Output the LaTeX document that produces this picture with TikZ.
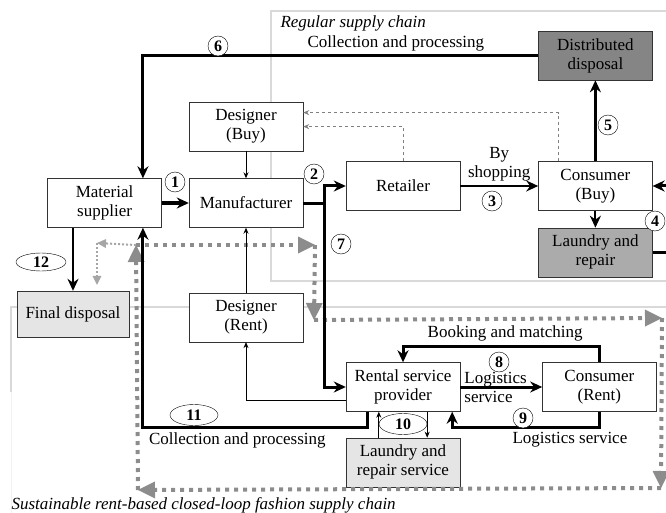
\documentclass[tikz,border=0pt]{standalone}
\usepackage{fontspec}
\setmainfont{Liberation Serif}
\usetikzlibrary{calc,positioning,arrows.meta,shapes.geometric}

\begin{document}
\begin{tikzpicture}[x=1pt,y=-1pt,node distance=27pt,>={Stealth[length=12pt,width=11pt]},
      font=\fontsize{17}{19}\selectfont,
      box/.style={draw=black!80,fill=white,minimum width=114pt,minimum height=49pt,align=center,inner sep=1pt},
      num/.style={draw,circle,fill=white,inner sep=0pt,minimum size=20pt,font=\fontsize{16}{16}\selectfont\bfseries},
      oval/.style={draw,ellipse,fill=white,inner sep=0pt,minimum width=48pt,minimum height=21pt,font=\fontsize{16}{16}\selectfont\bfseries},
      tag/.style={anchor=west,font=\fontsize{17}{19}\selectfont\itshape},
      flow/.style={line width=3pt},
      link/.style={line width=0.8pt,>={Stealth[length=6pt,width=5pt]}},
      info/.style={line width=0.8pt,dashed,black!50,>={Stealth[length=6pt,width=5pt]}},
      chainframe/.style={black!15,line width=2pt},
      loopline/.style={black!45,line width=4pt,dash pattern=on 4pt off 5pt,>={Triangle[length=17pt,width=17pt,line width=0pt]}},
      backline/.style={black!35,line width=2pt,dash pattern=on 2pt off 2pt,>={Triangle[length=9pt,width=9pt,line width=0pt]}}]
      \useasboundingbox (0,0) rectangle (666,513);

      % the two chains
      \draw[chainframe] (271,11) rectangle (700,281);
      \draw[chainframe] (700,307) -- (11,307) -- (11,392);
      \draw[black!5] (11,392) -- (11,513);
      \node[tag] (regular) at (277,23) {Regular supply chain};
      \node[tag] (sustain) at (8,505) {Sustainable rent-based closed-loop fashion supply chain};

      \node[box] (M) at (246,203) {Manufacturer};
      \node[box,left=of M] (S) {Material\\supplier};
      \node[box,above=of M] (DB) {Designer\\(Buy)};
      \node[box,below=65pt of M] (DR) {Designer\\(Rent)};
      \node[box] (R) at (403,186) {Retailer};
      \node[box,right=78pt of R] (CB) {Consumer\\(Buy)};
      \node[box,fill=black!48,above=81pt of CB] (DD) {Distributed\\disposal};
      \node[box,fill=black!33,below=17pt of CB] (LR) {Laundry and\\repair};
      \node[box,fill=black!10,minimum width=112pt,minimum height=46pt] (FD) at (73,314) {Final disposal};
      \node[box] (RS) at (403,387) {Rental service\\provider};
      \node[box,right=82pt of RS] (CR) {Consumer\\(Rent)};
      \node[box,fill=black!10,below=26pt of RS] (LS) {Laundry and\\repair service};

      % grey closed loop
      \coordinate (g1) at (136,245);
      \coordinate (g2) at (315,245);
      \coordinate (g3) at (314,320);
      \coordinate (g4) at (662,318);
      \coordinate (g5) at (661,488);
      \coordinate (g6) at (138,490);
      \foreach \a/\b in {g1/g2,g2/g3,g3/g4,g4/g5,g5/g6,g6/g1}
        \draw[loopline,->] (\a) -- (\b);
      \coordinate (f1) at (97,243);
      \draw[backline,->] (g1) -- (f1);
      \draw[backline,->] (f1) -- ($(FD.north)+(24,-6)$);

      \draw[line width=3.5pt,->] (S) -- (M);
      \coordinate (J) at (324,203);
      \draw[flow] (M) -- (J);
      \draw[flow,->] (J) |- (R);
      \draw[flow,->] (J) |- (RS);
      \draw[line width=2.5pt,->] (R) -- node[above,align=center]{By\\shopping} (CB);
      \draw[line width=2pt,->] (CB) -- (LR);
      \draw[flow,->] (LR.east) -- ++(18,0) |- (CB.east);
      \draw[flow,->] (CB) -- (DD);
      \draw[flow,->] (DD.west) -| node[above,pos=0.18]{Collection and processing} ($(S.north)!0.67!(S.north east)$);

      \draw[info,->] (R.north) |- (DB.east);
      \draw[info,->] ($(CB.north west)!0.175!(CB.north east)$) |- ($(DB.east)+(0,-14)$);
      \draw[link,->] (DB) -- (M);
      \draw[link,->] (DR) -- (M);
      \draw[link,->] ($(RS.west)+(0,13)$) -| (DR.south);

      \draw[flow,->] (RS) -- (CR);
      \node[anchor=west,align=left,inner sep=4pt] (logi) at (RS.east) {Logistics\\service};
      \draw[flow,->] (CR.north) -- ++(0,-16) -| node[above,pos=0.24]{Booking and matching} (RS.north);
      \draw[flow,->] (CR.south) -- ++(0,16) -| node[below,pos=0.1]{Logistics service} ($(RS.south east)+(-8,0)$);
      \draw[link,->] ($(LS.north west)+(33,0)$) -- ($(RS.south west)+(33,0)$);
      \draw[link,->] ($(RS.south east)+(-33,0)$) -- ($(LS.north east)+(-33,0)$);
      \draw[flow,->] ($(RS.south west)+(22,0)$) -- ++(0,16) -| node[below,pos=0.29]{Collection and processing} ($(S.south)!0.67!(S.south east)$);
      \draw[line width=2pt,->] (FD.north |- S.south) -- (FD.north);

      \node[num] (n1) at (175,182) {1};
      \node[num] (n2) at (314,174) {2};
      \node[num] (n3) at (492,201) {3};
      \node[num] (n4) at (655,221) {4};
      \node[num] (n5) at (608,125) {5};
      \node[num] (n6) at (218,46) {6};
      \node[num] (n7) at (341,244) {7};
      \node[num] (n8) at (499,362) {8};
      \node[num] (n9) at (523,418) {9};
      \node[oval] (n10) at (403,424) {10};
      \node[oval] (n11) at (194,415) {11};
      \node[oval,minimum height=18pt,minimum width=50pt] (n12) at (41,262) {12};
\end{tikzpicture}
\end{document}
